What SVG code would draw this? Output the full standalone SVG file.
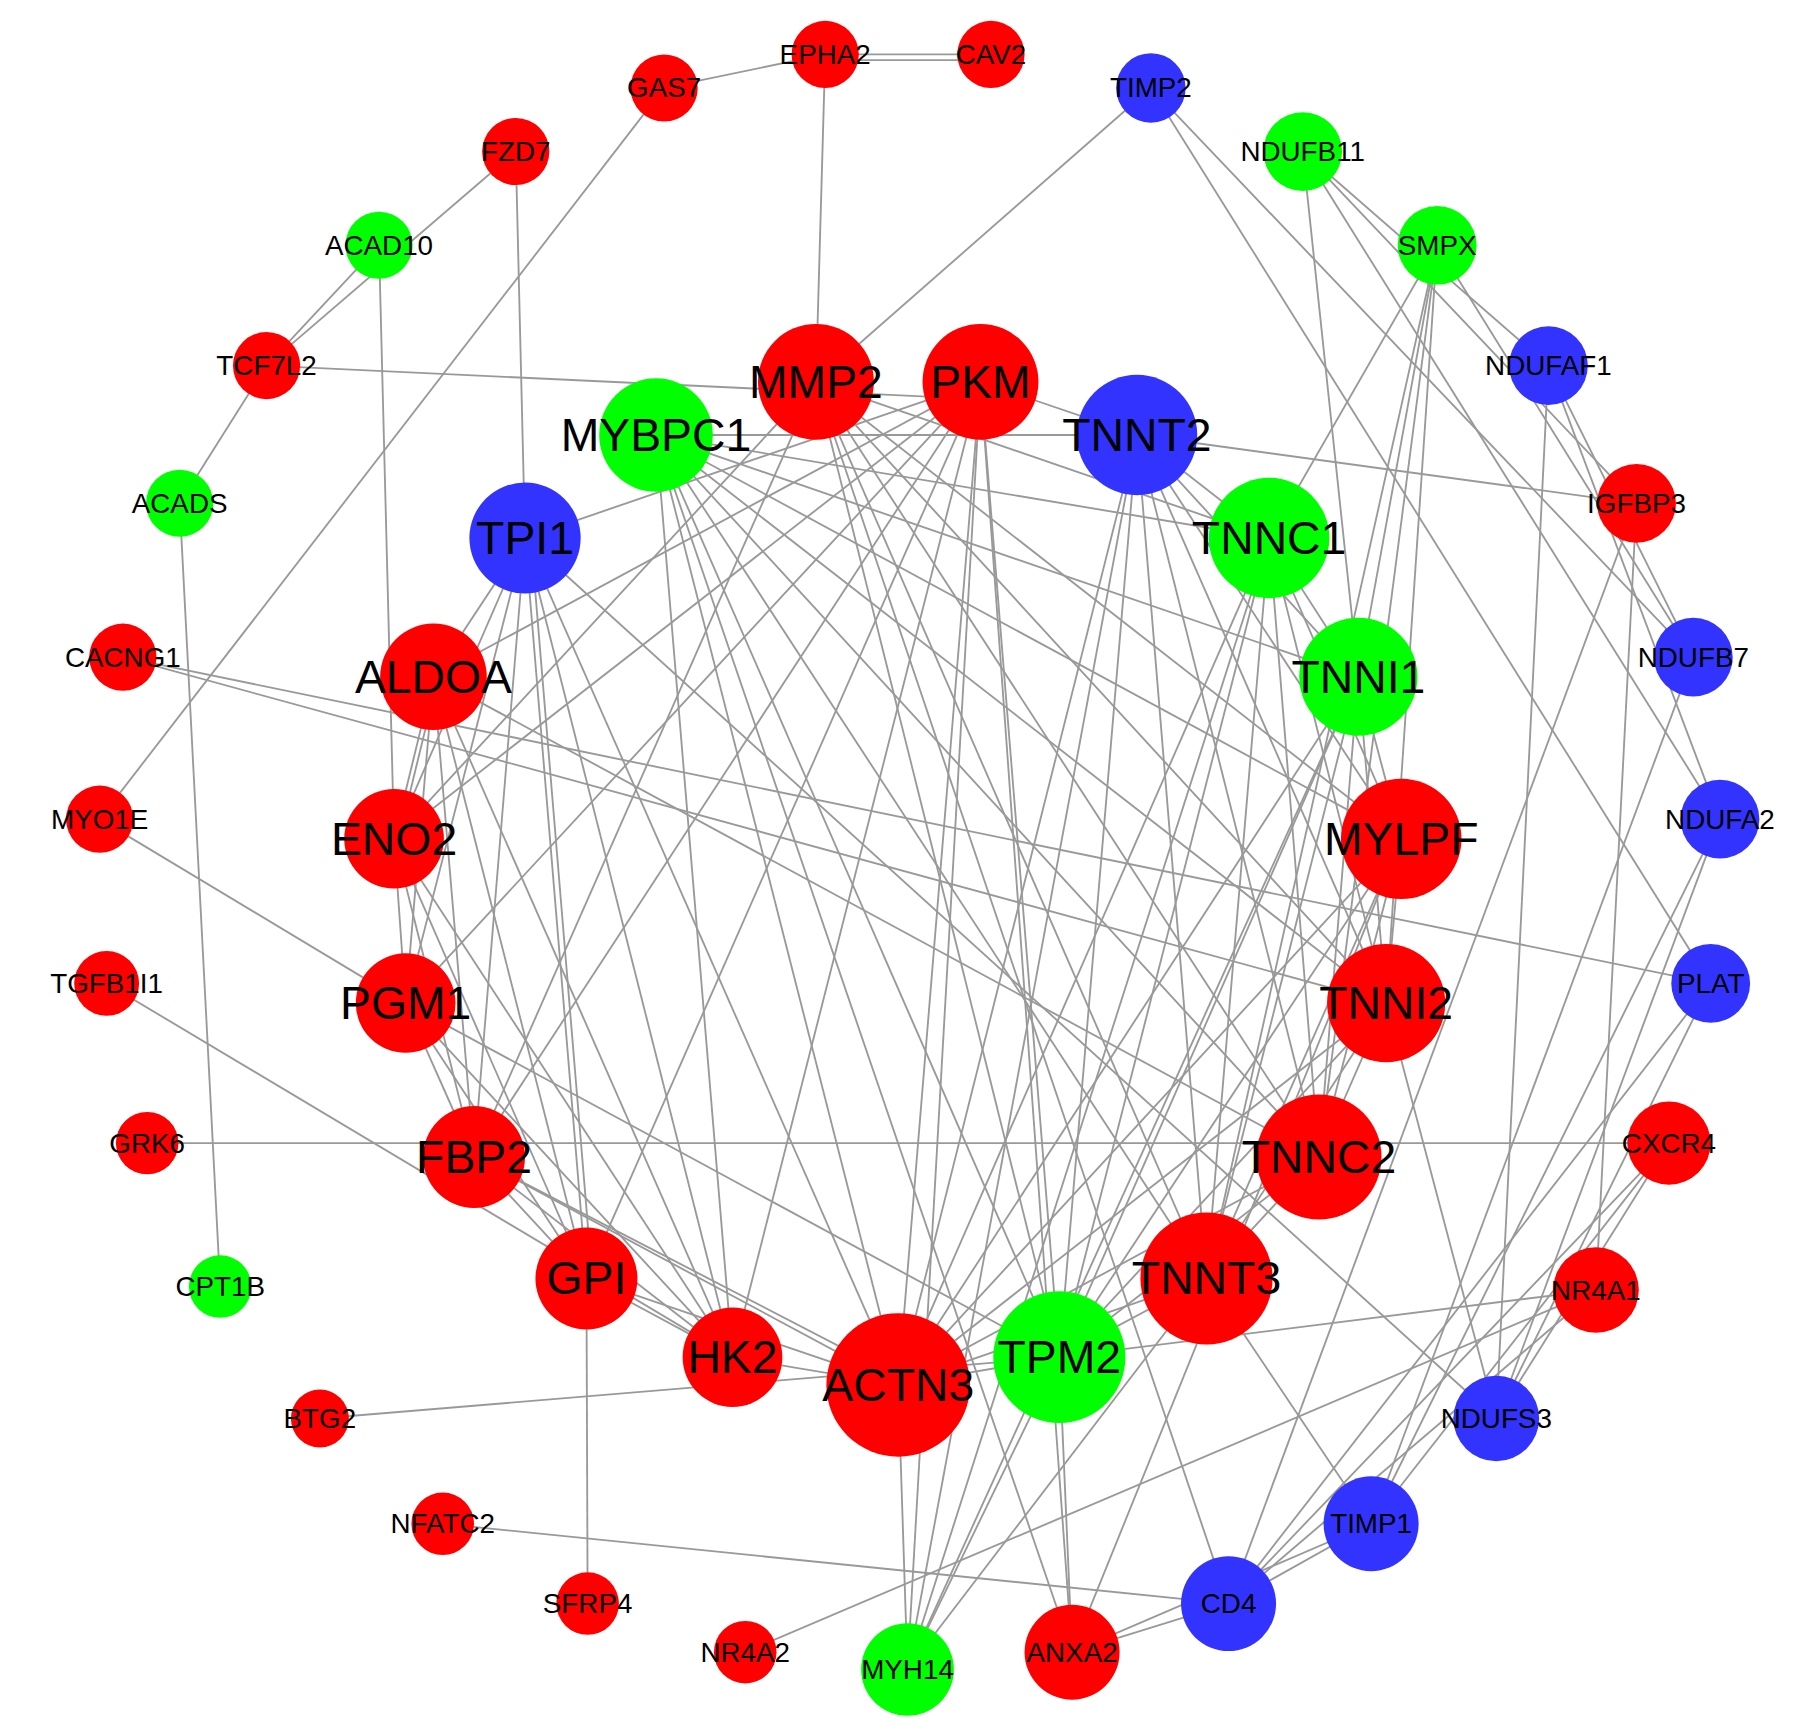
<svg xmlns="http://www.w3.org/2000/svg" width="1809" height="1736" viewBox="0 0 1809 1736">
<style>
.e line{stroke:#999;stroke-width:1.6;fill:none}
.r{fill:#ff0000}.g{fill:#00ff00}.b{fill:#3333ff}
text{font-family:"Liberation Sans",Arial,sans-serif;text-anchor:middle;dominant-baseline:central;fill:#000}
.s{font-size:24px}.l{font-size:40px}
</style>
<rect width="1809" height="1736" fill="#fff"/>
<g transform="scale(1.159,1.157)">
<g id="edges" class="e">
<line x1="573" y1="76" x2="712" y2="47"/><line x1="712" y1="47" x2="855" y2="47"/><line x1="712" y1="52" x2="855" y2="52"/>
<line x1="712" y1="47" x2="704" y2="330"/><line x1="573" y1="76" x2="86" y2="708"/>
<line x1="445" y1="131" x2="230" y2="316"/><line x1="327" y1="212" x2="230" y2="316"/><line x1="445" y1="131" x2="453" y2="465"/>
<line x1="327" y1="212" x2="340" y2="725"/><line x1="230" y1="316" x2="155" y2="435"/><line x1="230" y1="316" x2="846" y2="345"/>
<line x1="155" y1="435" x2="190" y2="1112"/>
<line x1="993" y1="76" x2="704" y2="330"/><line x1="993" y1="76" x2="1476" y2="850"/><line x1="993" y1="76" x2="1461" y2="568"/>
<line x1="1124" y1="131" x2="1172" y2="585"/><line x1="1124" y1="131" x2="1412" y2="435"/><line x1="1124" y1="131" x2="1484" y2="708"/><line x1="1124" y1="131" x2="1336" y2="316"/>
<line x1="1240" y1="212" x2="1095" y2="465"/><line x1="1240" y1="212" x2="1172" y2="585"/><line x1="1240" y1="212" x2="1041" y2="1105"/><line x1="1240" y1="212" x2="1138" y2="1000"/><line x1="1240" y1="212" x2="1461" y2="568"/><line x1="1240" y1="212" x2="1196" y2="867"/>
<line x1="1336" y1="316" x2="1461" y2="568"/><line x1="1336" y1="316" x2="1484" y2="708"/><line x1="1336" y1="316" x2="1291" y2="1226"/>
<line x1="1412" y1="435" x2="981" y2="376"/><line x1="1412" y1="435" x2="1377" y2="1115"/><line x1="1412" y1="435" x2="1060" y2="1386"/>
<line x1="1461" y1="568" x2="1183" y2="1317"/><line x1="1484" y1="708" x2="1291" y2="1226"/><line x1="1484" y1="708" x2="1183" y2="1317"/>
<line x1="1476" y1="850" x2="1060" y2="1386"/><line x1="1476" y1="850" x2="1291" y2="1226"/><line x1="106" y1="568" x2="1476" y2="850"/><line x1="106" y1="568" x2="1196" y2="867"/>
<line x1="127" y1="988" x2="1440" y2="988"/><line x1="1440" y1="988" x2="1060" y2="1386"/><line x1="1440" y1="988" x2="1183" y2="1317"/><line x1="1440" y1="988" x2="1291" y2="1226"/>
<line x1="1377" y1="1115" x2="914" y2="1173"/><line x1="1377" y1="1115" x2="643" y2="1428"/><line x1="1377" y1="1115" x2="1060" y2="1386"/>
<line x1="1196" y1="867" x2="1291" y2="1226"/><line x1="1183" y1="1317" x2="1060" y2="1386"/><line x1="1183" y1="1317" x2="925" y2="1428"/>
<line x1="1060" y1="1386" x2="382" y2="1317"/><line x1="1060" y1="1386" x2="925" y2="1428"/><line x1="1060" y1="1386" x2="704" y2="330"/>
<line x1="925" y1="1428" x2="1209" y2="725"/><line x1="86" y1="708" x2="350" y2="867"/><line x1="92" y1="850" x2="632" y2="1173"/>
<line x1="276" y1="1226" x2="914" y2="1173"/><line x1="506" y1="1105" x2="507" y2="1386"/><line x1="775" y1="1197" x2="783" y2="1443"/>
<line x1="1041" y1="1105" x2="1183" y2="1317"/><line x1="925" y1="1428" x2="566" y2="376"/><line x1="453" y1="465" x2="1291" y2="1226"/><line x1="374" y1="585" x2="1138" y2="1000"/>
<line x1="846" y1="330" x2="453" y2="465"/><line x1="846" y1="330" x2="374" y2="585"/><line x1="846" y1="330" x2="340" y2="725"/><line x1="846" y1="330" x2="350" y2="867"/><line x1="846" y1="330" x2="409" y2="1000"/><line x1="846" y1="330" x2="506" y2="1105"/><line x1="846" y1="330" x2="632" y2="1173"/><line x1="846" y1="330" x2="775" y2="1197"/><line x1="846" y1="330" x2="914" y2="1173"/><line x1="846" y1="330" x2="981" y2="376"/>
<line x1="453" y1="465" x2="374" y2="585"/><line x1="453" y1="465" x2="340" y2="725"/><line x1="453" y1="465" x2="350" y2="867"/><line x1="453" y1="465" x2="409" y2="1000"/><line x1="453" y1="465" x2="506" y2="1105"/><line x1="453" y1="465" x2="632" y2="1173"/><line x1="453" y1="465" x2="775" y2="1197"/><line x1="458" y1="465" x2="511" y2="1105"/>
<line x1="374" y1="585" x2="340" y2="725"/><line x1="374" y1="585" x2="350" y2="867"/><line x1="374" y1="585" x2="409" y2="1000"/><line x1="374" y1="585" x2="506" y2="1105"/><line x1="374" y1="585" x2="632" y2="1173"/><line x1="378" y1="585" x2="344" y2="725"/>
<line x1="340" y1="725" x2="350" y2="867"/><line x1="340" y1="725" x2="409" y2="1000"/><line x1="340" y1="725" x2="506" y2="1105"/><line x1="340" y1="725" x2="632" y2="1173"/>
<line x1="350" y1="867" x2="409" y2="1000"/><line x1="350" y1="867" x2="506" y2="1105"/><line x1="350" y1="867" x2="632" y2="1173"/><line x1="350" y1="867" x2="914" y2="1173"/>
<line x1="409" y1="1000" x2="506" y2="1105"/><line x1="409" y1="1000" x2="632" y2="1173"/><line x1="409" y1="1000" x2="775" y2="1197"/><line x1="409" y1="1000" x2="704" y2="330"/><line x1="409" y1="1000" x2="775" y2="1190"/>
<line x1="506" y1="1105" x2="632" y2="1173"/><line x1="506" y1="1105" x2="775" y2="1197"/><line x1="632" y1="1173" x2="775" y2="1197"/>
<line x1="566" y1="376" x2="981" y2="376"/><line x1="566" y1="376" x2="1095" y2="465"/><line x1="566" y1="376" x2="1172" y2="585"/><line x1="566" y1="376" x2="1209" y2="725"/><line x1="566" y1="376" x2="1196" y2="867"/><line x1="566" y1="376" x2="1138" y2="1000"/><line x1="566" y1="376" x2="1041" y2="1105"/><line x1="566" y1="376" x2="914" y2="1173"/><line x1="566" y1="376" x2="775" y2="1197"/><line x1="566" y1="376" x2="632" y2="1173"/>
<line x1="704" y1="330" x2="1095" y2="465"/><line x1="704" y1="330" x2="1209" y2="725"/><line x1="704" y1="330" x2="1138" y2="1000"/><line x1="704" y1="330" x2="1041" y2="1105"/><line x1="704" y1="330" x2="914" y2="1173"/><line x1="704" y1="330" x2="1196" y2="867"/><line x1="704" y1="330" x2="340" y2="725"/>
<line x1="981" y1="376" x2="1095" y2="465"/><line x1="981" y1="376" x2="1172" y2="585"/><line x1="981" y1="376" x2="1209" y2="725"/><line x1="981" y1="376" x2="1196" y2="867"/><line x1="981" y1="376" x2="1138" y2="1000"/><line x1="981" y1="376" x2="1041" y2="1105"/><line x1="981" y1="376" x2="914" y2="1173"/><line x1="981" y1="376" x2="775" y2="1197"/><line x1="981" y1="376" x2="783" y2="1443"/>
<line x1="1095" y1="465" x2="1172" y2="585"/><line x1="1095" y1="465" x2="1209" y2="725"/><line x1="1095" y1="465" x2="1196" y2="867"/><line x1="1095" y1="465" x2="1138" y2="1000"/><line x1="1095" y1="465" x2="1041" y2="1105"/><line x1="1095" y1="465" x2="914" y2="1173"/><line x1="1095" y1="465" x2="775" y2="1197"/><line x1="1095" y1="465" x2="783" y2="1443"/>
<line x1="1172" y1="585" x2="1209" y2="725"/><line x1="1172" y1="585" x2="1196" y2="867"/><line x1="1172" y1="585" x2="1138" y2="1000"/><line x1="1172" y1="585" x2="1041" y2="1105"/><line x1="1172" y1="585" x2="914" y2="1173"/><line x1="1172" y1="585" x2="775" y2="1197"/><line x1="1172" y1="585" x2="783" y2="1443"/>
<line x1="1209" y1="725" x2="1196" y2="867"/><line x1="1209" y1="725" x2="1138" y2="1000"/><line x1="1209" y1="725" x2="1041" y2="1105"/><line x1="1209" y1="725" x2="914" y2="1173"/><line x1="1209" y1="725" x2="775" y2="1197"/>
<line x1="1196" y1="867" x2="1138" y2="1000"/><line x1="1196" y1="867" x2="1041" y2="1105"/><line x1="1196" y1="867" x2="914" y2="1173"/><line x1="1196" y1="867" x2="775" y2="1197"/>
<line x1="1138" y1="1000" x2="1041" y2="1105"/><line x1="1138" y1="1000" x2="914" y2="1173"/><line x1="1138" y1="1000" x2="775" y2="1197"/>
<line x1="1041" y1="1105" x2="914" y2="1173"/><line x1="1041" y1="1105" x2="775" y2="1197"/><line x1="1041" y1="1105" x2="783" y2="1443"/>
<line x1="914" y1="1173" x2="775" y2="1197"/><line x1="914" y1="1173" x2="783" y2="1443"/><line x1="914" y1="1173" x2="925" y2="1428"/><line x1="846" y1="330" x2="925" y2="1428"/><line x1="846" y1="330" x2="783" y2="1443"/>
</g>
<g id="n-EPHA2"><circle class="r" cx="712" cy="47" r="29"/><text class="s" x="712" y="47">EPHA2</text></g>
<g id="n-CAV2"><circle class="r" cx="855" cy="47" r="29"/><text class="s" x="855" y="47">CAV2</text></g>
<g id="n-GAS7"><circle class="r" cx="573" cy="76" r="29"/><text class="s" x="573" y="76">GAS7</text></g>
<g id="n-TIMP2"><circle class="b" cx="993" cy="76" r="30"/><text class="s" x="993" y="76">TIMP2</text></g>
<g id="n-FZD7"><circle class="r" cx="445" cy="131" r="29"/><text class="s" x="445" y="131">FZD7</text></g>
<g id="n-NDUFB11"><circle class="g" cx="1124" cy="131" r="34"/><text class="s" x="1124" y="131">NDUFB11</text></g>
<g id="n-ACAD10"><circle class="g" cx="327" cy="212" r="29"/><text class="s" x="327" y="212">ACAD10</text></g>
<g id="n-SMPX"><circle class="g" cx="1240" cy="212" r="34"/><text class="s" x="1240" y="212">SMPX</text></g>
<g id="n-TCF7L2"><circle class="r" cx="230" cy="316" r="29"/><text class="s" x="230" y="316">TCF7L2</text></g>
<g id="n-NDUFAF1"><circle class="b" cx="1336" cy="316" r="34"/><text class="s" x="1336" y="316">NDUFAF1</text></g>
<g id="n-ACADS"><circle class="g" cx="155" cy="435" r="29"/><text class="s" x="155" y="435">ACADS</text></g>
<g id="n-IGFBP3"><circle class="r" cx="1412" cy="435" r="34"/><text class="s" x="1412" y="435">IGFBP3</text></g>
<g id="n-CACNG1"><circle class="r" cx="106" cy="568" r="29"/><text class="s" x="106" y="568">CACNG1</text></g>
<g id="n-NDUFB7"><circle class="b" cx="1461" cy="568" r="34"/><text class="s" x="1461" y="568">NDUFB7</text></g>
<g id="n-MYO1E"><circle class="r" cx="86" cy="708" r="29"/><text class="s" x="86" y="708">MYO1E</text></g>
<g id="n-NDUFA2"><circle class="b" cx="1484" cy="708" r="34"/><text class="s" x="1484" y="708">NDUFA2</text></g>
<g id="n-TGFB1I1"><circle class="r" cx="92" cy="850" r="28"/><text class="s" x="92" y="850">TGFB1I1</text></g>
<g id="n-PLAT"><circle class="b" cx="1476" cy="850" r="34"/><text class="s" x="1476" y="850">PLAT</text></g>
<g id="n-GRK6"><circle class="r" cx="127" cy="988" r="27"/><text class="s" x="127" y="988">GRK6</text></g>
<g id="n-CXCR4"><circle class="r" cx="1440" cy="988" r="36"/><text class="s" x="1440" y="988">CXCR4</text></g>
<g id="n-CPT1B"><circle class="g" cx="190" cy="1112" r="27"/><text class="s" x="190" y="1112">CPT1B</text></g>
<g id="n-NR4A1"><circle class="r" cx="1377" cy="1115" r="37"/><text class="s" x="1377" y="1115">NR4A1</text></g>
<g id="n-BTG2"><circle class="r" cx="276" cy="1226" r="25"/><text class="s" x="276" y="1226">BTG2</text></g>
<g id="n-NDUFS3"><circle class="b" cx="1291" cy="1226" r="37"/><text class="s" x="1291" y="1226">NDUFS3</text></g>
<g id="n-NFATC2"><circle class="r" cx="382" cy="1317" r="27"/><text class="s" x="382" y="1317">NFATC2</text></g>
<g id="n-TIMP1"><circle class="b" cx="1183" cy="1317" r="41"/><text class="s" x="1183" y="1317">TIMP1</text></g>
<g id="n-SFRP4"><circle class="r" cx="507" cy="1386" r="27"/><text class="s" x="507" y="1386">SFRP4</text></g>
<g id="n-CD4"><circle class="b" cx="1060" cy="1386" r="41"/><text class="s" x="1060" y="1386">CD4</text></g>
<g id="n-NR4A2"><circle class="r" cx="643" cy="1428" r="27"/><text class="s" x="643" y="1428">NR4A2</text></g>
<g id="n-MYH14"><circle class="g" cx="783" cy="1443" r="40"/><text class="s" x="783" y="1443">MYH14</text></g>
<g id="n-ANXA2"><circle class="r" cx="925" cy="1428" r="41"/><text class="s" x="925" y="1428">ANXA2</text></g>
<g id="n-MMP2"><circle class="r" cx="704" cy="330" r="50"/><text class="l" x="704" y="330">MMP2</text></g>
<g id="n-PKM"><circle class="r" cx="846" cy="330" r="50"/><text class="l" x="846" y="330">PKM</text></g>
<g id="n-MYBPC1"><circle class="g" cx="566" cy="376" r="49"/><text class="l" x="566" y="376">MYBPC1</text></g>
<g id="n-TNNT2"><circle class="b" cx="981" cy="376" r="52"/><text class="l" x="981" y="376">TNNT2</text></g>
<g id="n-TPI1"><circle class="b" cx="453" cy="465" r="48"/><text class="l" x="453" y="465">TPI1</text></g>
<g id="n-TNNC1"><circle class="g" cx="1095" cy="465" r="52"/><text class="l" x="1095" y="465">TNNC1</text></g>
<g id="n-ALDOA"><circle class="r" cx="374" cy="585" r="46"/><text class="l" x="374" y="585">ALDOA</text></g>
<g id="n-TNNI1"><circle class="g" cx="1172" cy="585" r="51"/><text class="l" x="1172" y="585">TNNI1</text></g>
<g id="n-ENO2"><circle class="r" cx="340" cy="725" r="43"/><text class="l" x="340" y="725">ENO2</text></g>
<g id="n-MYLPF"><circle class="r" cx="1209" cy="725" r="52"/><text class="l" x="1209" y="725">MYLPF</text></g>
<g id="n-PGM1"><circle class="r" cx="350" cy="867" r="43"/><text class="l" x="350" y="867">PGM1</text></g>
<g id="n-TNNI2"><circle class="r" cx="1196" cy="867" r="51"/><text class="l" x="1196" y="867">TNNI2</text></g>
<g id="n-FBP2"><circle class="r" cx="409" cy="1000" r="44"/><text class="l" x="409" y="1000">FBP2</text></g>
<g id="n-TNNC2"><circle class="r" cx="1138" cy="1000" r="54"/><text class="l" x="1138" y="1000">TNNC2</text></g>
<g id="n-GPI"><circle class="r" cx="506" cy="1105" r="44"/><text class="l" x="506" y="1105">GPI</text></g>
<g id="n-TNNT3"><circle class="r" cx="1041" cy="1105" r="57"/><text class="l" x="1041" y="1105">TNNT3</text></g>
<g id="n-HK2"><circle class="r" cx="632" cy="1173" r="43"/><text class="l" x="632" y="1173">HK2</text></g>
<g id="n-TPM2"><circle class="g" cx="914" cy="1173" r="57"/><text class="l" x="914" y="1173">TPM2</text></g>
<g id="n-ACTN3"><circle class="r" cx="775" cy="1197" r="62"/><text class="l" x="775" y="1197">ACTN3</text></g>
</g>
</svg>
